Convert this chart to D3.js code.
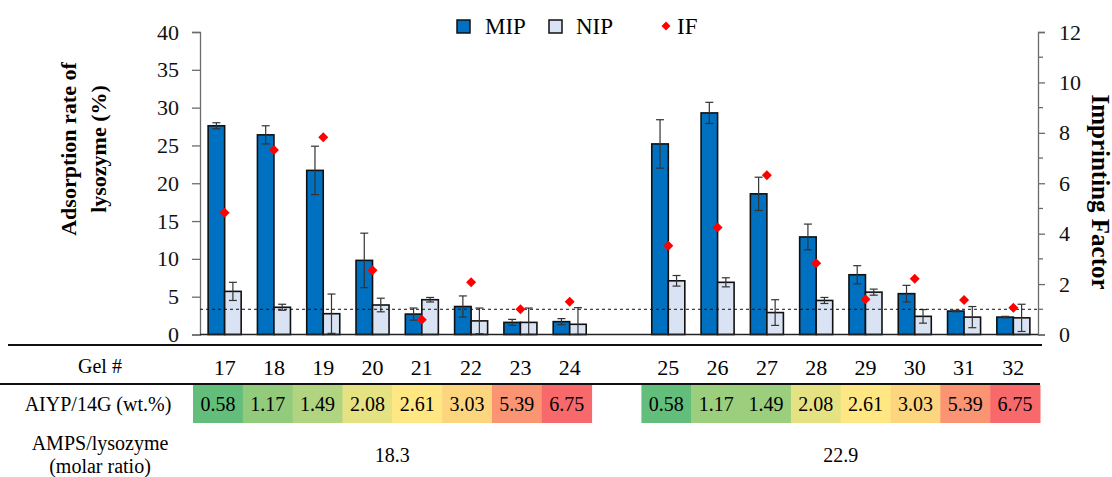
<!DOCTYPE html>
<html>
<head>
<meta charset="utf-8">
<script src="https://cdn.jsdelivr.net/npm/d3@7"></script>
<style>
  body { margin: 0; background: #fff; }
</style>
</head>
<body>
<svg id="chart" width="1112" height="477" font-family="'Liberation Serif', 'Times New Roman', serif"></svg>
<script>
// values
var gels1 = ["17", "18", "19", "20", "21", "22", "23", "24"];
var gels2 = ["25", "26", "27", "28", "29", "30", "31", "32"];
var mip    = [27.6, 26.4, 21.7, 9.8, 2.7, 3.7, 1.6, 1.7, 25.2, 29.3, 18.6, 12.9, 7.9, 5.4, 3.1, 2.3];
var mipErr = [0.4, 1.2, 3.2, 3.6, 0.8, 1.4, 0.4, 0.4, 3.2, 1.4, 2.2, 1.7, 1.2, 1.1, 0.1, 0.1];
var nip    = [5.7, 3.6, 2.75, 3.9, 4.6, 1.8, 1.6, 1.35, 7.1, 6.9, 2.9, 4.5, 5.6, 2.4, 2.3, 2.2];
var nipErr = [1.2, 0.4, 2.6, 0.9, 0.3, 1.7, 1.9, 2.2, 0.7, 0.6, 1.7, 0.4, 0.4, 0.9, 1.4, 1.8];
var impFactor = [4.83, 7.32, 7.82, 2.55, 0.59, 2.07, 1.0, 1.3, 3.52, 4.24, 6.32, 2.83, 1.4, 2.21, 1.37, 1.06];
var aiyp = ["0.58", "1.17", "1.49", "2.08", "2.61", "3.03", "5.39", "6.75"];
var cellColors1 = ["#63BE7B", "#93CB7D", "#B0D47F", "#E5E283", "#FFE884", "#FDD57F", "#FA9473", "#F8696B"];
var cellColors2 = ["#63BE7B", "#9BCF7E", "#9BCF7E", "#E5E283", "#FFE884", "#FDD57F", "#FA9473", "#F8696B"];
var ampsRatio = ["18.3", "22.9"];
var leftTicks = [0, 5, 10, 15, 20, 25, 30, 35, 40];
var rightTicks = [0, 2, 4, 6, 8, 10, 12];
var rightMinor = [1, 3, 5, 7, 9, 11];

var FONT = "'Liberation Serif', 'Times New Roman', serif";
var svg = d3.select("#chart");
var gels = gels1.concat(gels2);
var slots = gels1.concat(["gap"], gels2);

var x = d3.scaleBand().domain(slots).range([200, 1038]).paddingInner(0.33).paddingOuter(0.165);
var xs = d3.scaleBand().domain(["MIP", "NIP"]).range([0, x.bandwidth()]);
var y = d3.scaleLinear().domain([0, 40]).range([334.5, 32]);
var yr = d3.scaleLinear().domain([0, 12]).range([334.5, 32]);
var xt = d3.scaleBand().domain(slots).range([193, 1040]);

var rows = gels.map(function(g, i) {
    return { gel: g, mip: mip[i], mipErr: mipErr[i], nip: nip[i], nipErr: nipErr[i], f: impFactor[i] };
});

// axes
var axL = svg.append("g")
    .attr("transform", "translate(200,0)")
    .call(d3.axisLeft(y).tickValues(leftTicks).tickSize(8).tickPadding(13));
var axR = svg.append("g")
    .attr("transform", "translate(1038,0)")
    .call(d3.axisRight(yr).tickValues(rightTicks).tickSize(7).tickPadding(14));
axR.append("g").selectAll("line")
    .data(rightMinor)
    .enter().append("line")
    .attr("x1", 0).attr("x2", 5)
    .attr("y1", function(d) { return yr(d); })
    .attr("y2", function(d) { return yr(d); });
[axL, axR].forEach(function(a) {
    a.attr("font-family", FONT).attr("font-size", 22);
    a.selectAll("path.domain").attr("stroke", "#6b6b6b").attr("stroke-width", 1.3);
    a.selectAll("line").attr("stroke", "#6b6b6b").attr("stroke-width", 1.3);
    a.selectAll("text").attr("fill", "#111");
});

// bars
var grp = svg.append("g").selectAll("g")
    .data(rows)
    .enter().append("g")
    .attr("transform", function(d) { return "translate(" + x(d.gel) + ",0)"; });

grp.append("rect")
    .attr("x", xs("MIP")).attr("width", xs.bandwidth())
    .attr("y", function(d) { return y(d.mip); })
    .attr("height", function(d) { return y(0) - y(d.mip); })
    .attr("fill", "#0070C0").attr("stroke", "#111").attr("stroke-width", 1.6);
grp.append("rect")
    .attr("x", xs("NIP")).attr("width", xs.bandwidth())
    .attr("y", function(d) { return y(d.nip); })
    .attr("height", function(d) { return y(0) - y(d.nip); })
    .attr("fill", "#DAE3F3").attr("stroke", "#111").attr("stroke-width", 1.6);

// error bars
function errBar(sel, key, errKey) {
    var cx = xs(key) + xs.bandwidth() / 2;
    var k = key.toLowerCase();
    sel.append("line")
        .attr("x1", cx).attr("x2", cx)
        .attr("y1", function(d) { return y(d[k] + d[errKey]); })
        .attr("y2", function(d) { return y(Math.max(0, d[k] - d[errKey])); })
        .attr("stroke", "#333").attr("stroke-width", 1.2);
    [1, -1].forEach(function(s) {
        sel.append("line")
            .attr("x1", cx - 4).attr("x2", cx + 4)
            .attr("y1", function(d) { return y(Math.max(0, d[k] + s * d[errKey])); })
            .attr("y2", function(d) { return y(Math.max(0, d[k] + s * d[errKey])); })
            .attr("stroke", "#333").attr("stroke-width", 1.2);
    });
}
errBar(grp, "MIP", "mipErr");
errBar(grp, "NIP", "nipErr");

// IF = 1 reference line
svg.append("line")
    .attr("x1", 200).attr("x2", 1038)
    .attr("y1", yr(1)).attr("y2", yr(1))
    .attr("stroke", "#111").attr("stroke-width", 1).attr("stroke-dasharray", "3,3");

// baseline
svg.append("line")
    .attr("x1", 200).attr("x2", 1038)
    .attr("y1", y(0)).attr("y2", y(0))
    .attr("stroke", "#222").attr("stroke-width", 1.5);

// imprinting factor markers
var diamond = d3.symbol().type(d3.symbolSquare).size(50);
svg.append("g").selectAll("path")
    .data(rows)
    .enter().append("path")
    .attr("d", diamond)
    .attr("transform", function(d) {
        return "translate(" + (x(d.gel) + x.bandwidth() / 2) + "," + yr(d.f) + ") rotate(45)";
    })
    .attr("fill", "#FF0000");

// titles
svg.append("text")
    .attr("transform", "translate(68,149) rotate(-90)")
    .attr("text-anchor", "middle").attr("dominant-baseline", "central")
    .attr("font-size", 22).attr("font-weight", "bold")
    .text("Adsorption rate of");
svg.append("text")
    .attr("transform", "translate(98,149) rotate(-90)")
    .attr("text-anchor", "middle").attr("dominant-baseline", "central")
    .attr("font-size", 22).attr("font-weight", "bold")
    .text("lysozyme (%)");
svg.append("text")
    .attr("transform", "translate(1100,192) rotate(90)")
    .attr("text-anchor", "middle").attr("dominant-baseline", "central")
    .attr("font-size", 25).attr("font-weight", "bold")
    .text("Imprinting Factor");

// legend
var legend = svg.append("g").attr("font-size", 23);
legend.append("rect").attr("x", 457).attr("y", 20).attr("width", 13).attr("height", 13)
    .attr("fill", "#0070C0").attr("stroke", "#111").attr("stroke-width", 1.5);
legend.append("text").attr("x", 485).attr("y", 34).text("MIP");
legend.append("rect").attr("x", 549).attr("y", 20).attr("width", 13).attr("height", 13)
    .attr("fill", "#DAE3F3").attr("stroke", "#111").attr("stroke-width", 1.5);
legend.append("text").attr("x", 576).attr("y", 34).text("NIP");
legend.append("path").attr("d", d3.symbol().type(d3.symbolSquare).size(40))
    .attr("transform", "translate(666,26) rotate(45)").attr("fill", "#FF0000");
legend.append("text").attr("x", 677).attr("y", 34).text("IF");

// table under the chart
svg.append("line").attr("x1", 8).attr("x2", 1042).attr("y1", 345).attr("y2", 345)
    .attr("stroke", "#111").attr("stroke-width", 2);
svg.append("line").attr("x1", 0).attr("x2", 1040).attr("y1", 384).attr("y2", 384)
    .attr("stroke", "#111").attr("stroke-width", 2);

var rowLabels = svg.append("g").attr("font-size", 20).attr("text-anchor", "middle");
rowLabels.append("text").attr("x", 100).attr("y", 366).attr("dominant-baseline", "central").text("Gel #");
rowLabels.append("text").attr("x", 98).attr("y", 404).attr("dominant-baseline", "central").text("AIYP/14G (wt.%)");
rowLabels.append("text").attr("x", 100).attr("y", 443).attr("dominant-baseline", "central").text("AMPS/lysozyme");
rowLabels.append("text").attr("x", 100).attr("y", 466).attr("dominant-baseline", "central").text("(molar ratio)");

svg.append("g").selectAll("text")
    .data(gels)
    .enter().append("text")
    .attr("x", function(d) { return x(d) + x.bandwidth() / 2; })
    .attr("y", 367)
    .attr("text-anchor", "middle").attr("dominant-baseline", "central")
    .attr("font-size", 22)
    .text(function(d) { return d; });

var cells = gels1.map(function(g, i) { return { gel: g, v: aiyp[i], c: cellColors1[i] }; })
    .concat(gels2.map(function(g, i) { return { gel: g, v: aiyp[i], c: cellColors2[i] }; }));
var cell = svg.append("g").selectAll("g")
    .data(cells)
    .enter().append("g")
    .attr("transform", function(d) { return "translate(" + xt(d.gel) + ",385)"; });
cell.append("rect")
    .attr("width", xt.bandwidth() + 0.5).attr("height", 38)
    .attr("fill", function(d) { return d.c; });
cell.append("text")
    .attr("x", xt.bandwidth() / 2).attr("y", 19)
    .attr("text-anchor", "middle").attr("dominant-baseline", "central")
    .attr("font-size", 20)
    .text(function(d) { return d.v; });

var groups = [gels1, gels2];
svg.append("g").selectAll("text")
    .data(ampsRatio)
    .enter().append("text")
    .attr("x", function(d, i) {
        var g = groups[i];
        return (xt(g[0]) + xt(g[g.length - 1]) + xt.bandwidth()) / 2;
    })
    .attr("y", 455)
    .attr("text-anchor", "middle").attr("dominant-baseline", "central")
    .attr("font-size", 20)
    .text(function(d) { return d; });
</script>
</body>
</html>
